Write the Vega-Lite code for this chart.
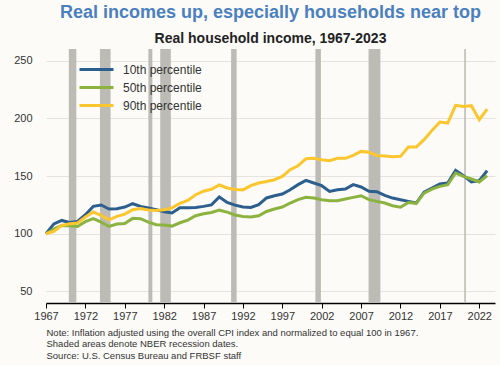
{
  "$schema": "https://vega.github.io/schema/vega-lite/v6.json",
  "width": 449,
  "height": 254,
  "autosize": {"type": "none"},
  "padding": {"left": 46, "top": 49, "right": 5, "bottom": 62},
  "background": "#fcfbf7",
  "config": {
    "font": "Liberation Sans",
    "view": {"stroke": null}
  },
  "title": {
    "text": "Real incomes up, especially households near top",
    "subtitle": "Real household income, 1967-2023",
    "anchor": "middle",
    "frame": "group",
    "font": "Liberation Sans",
    "fontSize": 18,
    "fontWeight": "bold",
    "color": "#4a7fc0",
    "subtitleFont": "Liberation Sans",
    "subtitleFontSize": 14,
    "subtitleFontWeight": "bold",
    "subtitleColor": "#222222",
    "subtitlePadding": 10,
    "offset": 3
  },
  "datasets": {
    "recessions": [
      {"start": 1969.9, "end": 1970.85},
      {"start": 1973.85, "end": 1975.2},
      {"start": 1980.0, "end": 1980.5},
      {"start": 1981.5, "end": 1982.85},
      {"start": 1990.5, "end": 1991.2},
      {"start": 2001.2, "end": 2001.9},
      {"start": 2007.95, "end": 2009.45},
      {"start": 2020.1, "end": 2020.3}
    ],
    "income": [
      {"year": 1967, "series": "10th percentile", "value": 100},
      {"year": 1968, "series": "10th percentile", "value": 108.5},
      {"year": 1969, "series": "10th percentile", "value": 111.5},
      {"year": 1970, "series": "10th percentile", "value": 109.8},
      {"year": 1971, "series": "10th percentile", "value": 110.7},
      {"year": 1972, "series": "10th percentile", "value": 116.5},
      {"year": 1973, "series": "10th percentile", "value": 123.7},
      {"year": 1974, "series": "10th percentile", "value": 124.9},
      {"year": 1975, "series": "10th percentile", "value": 121.4},
      {"year": 1976, "series": "10th percentile", "value": 121.7},
      {"year": 1977, "series": "10th percentile", "value": 123.1},
      {"year": 1978, "series": "10th percentile", "value": 126},
      {"year": 1979, "series": "10th percentile", "value": 123.7},
      {"year": 1980, "series": "10th percentile", "value": 122.3},
      {"year": 1981, "series": "10th percentile", "value": 120.8},
      {"year": 1982, "series": "10th percentile", "value": 119},
      {"year": 1983, "series": "10th percentile", "value": 118},
      {"year": 1984, "series": "10th percentile", "value": 122.5},
      {"year": 1985, "series": "10th percentile", "value": 122.5},
      {"year": 1986, "series": "10th percentile", "value": 122.8},
      {"year": 1987, "series": "10th percentile", "value": 123.7},
      {"year": 1988, "series": "10th percentile", "value": 125},
      {"year": 1989, "series": "10th percentile", "value": 131.8},
      {"year": 1990, "series": "10th percentile", "value": 127.1},
      {"year": 1991, "series": "10th percentile", "value": 124.8},
      {"year": 1992, "series": "10th percentile", "value": 123.1},
      {"year": 1993, "series": "10th percentile", "value": 122.8},
      {"year": 1994, "series": "10th percentile", "value": 125.1},
      {"year": 1995, "series": "10th percentile", "value": 131},
      {"year": 1996, "series": "10th percentile", "value": 132.9},
      {"year": 1997, "series": "10th percentile", "value": 134.4},
      {"year": 1998, "series": "10th percentile", "value": 138.1},
      {"year": 1999, "series": "10th percentile", "value": 142.5},
      {"year": 2000, "series": "10th percentile", "value": 146.2},
      {"year": 2001, "series": "10th percentile", "value": 143.9},
      {"year": 2002, "series": "10th percentile", "value": 141.6},
      {"year": 2003, "series": "10th percentile", "value": 136.7},
      {"year": 2004, "series": "10th percentile", "value": 138.1},
      {"year": 2005, "series": "10th percentile", "value": 138.7},
      {"year": 2006, "series": "10th percentile", "value": 142.5},
      {"year": 2007, "series": "10th percentile", "value": 140.5},
      {"year": 2008, "series": "10th percentile", "value": 136.7},
      {"year": 2009, "series": "10th percentile", "value": 136.4},
      {"year": 2010, "series": "10th percentile", "value": 133.2},
      {"year": 2011, "series": "10th percentile", "value": 130.9},
      {"year": 2012, "series": "10th percentile", "value": 129.5},
      {"year": 2013, "series": "10th percentile", "value": 128},
      {"year": 2014, "series": "10th percentile", "value": 126.6},
      {"year": 2015, "series": "10th percentile", "value": 136.1},
      {"year": 2016, "series": "10th percentile", "value": 139.6},
      {"year": 2017, "series": "10th percentile", "value": 143.1},
      {"year": 2018, "series": "10th percentile", "value": 143.9},
      {"year": 2019, "series": "10th percentile", "value": 154.9},
      {"year": 2020, "series": "10th percentile", "value": 150.3},
      {"year": 2021, "series": "10th percentile", "value": 144.8},
      {"year": 2022, "series": "10th percentile", "value": 145.9},
      {"year": 2023, "series": "10th percentile", "value": 154.6},
      {"year": 1967, "series": "50th percentile", "value": 100},
      {"year": 1968, "series": "50th percentile", "value": 104},
      {"year": 1969, "series": "50th percentile", "value": 107.2},
      {"year": 1970, "series": "50th percentile", "value": 106.9},
      {"year": 1971, "series": "50th percentile", "value": 106.3},
      {"year": 1972, "series": "50th percentile", "value": 110.4},
      {"year": 1973, "series": "50th percentile", "value": 113},
      {"year": 1974, "series": "50th percentile", "value": 110.1},
      {"year": 1975, "series": "50th percentile", "value": 106.3},
      {"year": 1976, "series": "50th percentile", "value": 108.4},
      {"year": 1977, "series": "50th percentile", "value": 108.9},
      {"year": 1978, "series": "50th percentile", "value": 113.3},
      {"year": 1979, "series": "50th percentile", "value": 113},
      {"year": 1980, "series": "50th percentile", "value": 110.1},
      {"year": 1981, "series": "50th percentile", "value": 107.8},
      {"year": 1982, "series": "50th percentile", "value": 107.5},
      {"year": 1983, "series": "50th percentile", "value": 106.6},
      {"year": 1984, "series": "50th percentile", "value": 109.5},
      {"year": 1985, "series": "50th percentile", "value": 111.8},
      {"year": 1986, "series": "50th percentile", "value": 115.6},
      {"year": 1987, "series": "50th percentile", "value": 117.3},
      {"year": 1988, "series": "50th percentile", "value": 118.4},
      {"year": 1989, "series": "50th percentile", "value": 120.4},
      {"year": 1990, "series": "50th percentile", "value": 118.7},
      {"year": 1991, "series": "50th percentile", "value": 116.2},
      {"year": 1992, "series": "50th percentile", "value": 115},
      {"year": 1993, "series": "50th percentile", "value": 114.4},
      {"year": 1994, "series": "50th percentile", "value": 115.6},
      {"year": 1995, "series": "50th percentile", "value": 119.3},
      {"year": 1996, "series": "50th percentile", "value": 121.4},
      {"year": 1997, "series": "50th percentile", "value": 123.1},
      {"year": 1998, "series": "50th percentile", "value": 126.6},
      {"year": 1999, "series": "50th percentile", "value": 129.5},
      {"year": 2000, "series": "50th percentile", "value": 131.5},
      {"year": 2001, "series": "50th percentile", "value": 130.9},
      {"year": 2002, "series": "50th percentile", "value": 129.5},
      {"year": 2003, "series": "50th percentile", "value": 128.6},
      {"year": 2004, "series": "50th percentile", "value": 128.6},
      {"year": 2005, "series": "50th percentile", "value": 130},
      {"year": 2006, "series": "50th percentile", "value": 131.5},
      {"year": 2007, "series": "50th percentile", "value": 132.9},
      {"year": 2008, "series": "50th percentile", "value": 129.5},
      {"year": 2009, "series": "50th percentile", "value": 128},
      {"year": 2010, "series": "50th percentile", "value": 126.6},
      {"year": 2011, "series": "50th percentile", "value": 124.3},
      {"year": 2012, "series": "50th percentile", "value": 123},
      {"year": 2013, "series": "50th percentile", "value": 127.1},
      {"year": 2014, "series": "50th percentile", "value": 126.3},
      {"year": 2015, "series": "50th percentile", "value": 135.2},
      {"year": 2016, "series": "50th percentile", "value": 138.7},
      {"year": 2017, "series": "50th percentile", "value": 141},
      {"year": 2018, "series": "50th percentile", "value": 142.5},
      {"year": 2019, "series": "50th percentile", "value": 152.6},
      {"year": 2020, "series": "50th percentile", "value": 149.7},
      {"year": 2021, "series": "50th percentile", "value": 147.4},
      {"year": 2022, "series": "50th percentile", "value": 144.8},
      {"year": 2023, "series": "50th percentile", "value": 150.3},
      {"year": 1967, "series": "90th percentile", "value": 100},
      {"year": 1968, "series": "90th percentile", "value": 102},
      {"year": 1969, "series": "90th percentile", "value": 107.2},
      {"year": 1970, "series": "90th percentile", "value": 108.7},
      {"year": 1971, "series": "90th percentile", "value": 109.3},
      {"year": 1972, "series": "90th percentile", "value": 114.5},
      {"year": 1973, "series": "90th percentile", "value": 118.8},
      {"year": 1974, "series": "90th percentile", "value": 115.9},
      {"year": 1975, "series": "90th percentile", "value": 112.1},
      {"year": 1976, "series": "90th percentile", "value": 115},
      {"year": 1977, "series": "90th percentile", "value": 117},
      {"year": 1978, "series": "90th percentile", "value": 120.8},
      {"year": 1979, "series": "90th percentile", "value": 121.9},
      {"year": 1980, "series": "90th percentile", "value": 120.5},
      {"year": 1981, "series": "90th percentile", "value": 120.2},
      {"year": 1982, "series": "90th percentile", "value": 120.8},
      {"year": 1983, "series": "90th percentile", "value": 122.4},
      {"year": 1984, "series": "90th percentile", "value": 126.3},
      {"year": 1985, "series": "90th percentile", "value": 128.9},
      {"year": 1986, "series": "90th percentile", "value": 133.8},
      {"year": 1987, "series": "90th percentile", "value": 136.8},
      {"year": 1988, "series": "90th percentile", "value": 138.5},
      {"year": 1989, "series": "90th percentile", "value": 142.2},
      {"year": 1990, "series": "90th percentile", "value": 139.6},
      {"year": 1991, "series": "90th percentile", "value": 138.4},
      {"year": 1992, "series": "90th percentile", "value": 138},
      {"year": 1993, "series": "90th percentile", "value": 141.6},
      {"year": 1994, "series": "90th percentile", "value": 143.9},
      {"year": 1995, "series": "90th percentile", "value": 145.2},
      {"year": 1996, "series": "90th percentile", "value": 146.8},
      {"year": 1997, "series": "90th percentile", "value": 149.7},
      {"year": 1998, "series": "90th percentile", "value": 155.5},
      {"year": 1999, "series": "90th percentile", "value": 158.9},
      {"year": 2000, "series": "90th percentile", "value": 165},
      {"year": 2001, "series": "90th percentile", "value": 165.3},
      {"year": 2002, "series": "90th percentile", "value": 164.1},
      {"year": 2003, "series": "90th percentile", "value": 163.3},
      {"year": 2004, "series": "90th percentile", "value": 165.3},
      {"year": 2005, "series": "90th percentile", "value": 165.3},
      {"year": 2006, "series": "90th percentile", "value": 167.9},
      {"year": 2007, "series": "90th percentile", "value": 171.3},
      {"year": 2008, "series": "90th percentile", "value": 170.5},
      {"year": 2009, "series": "90th percentile", "value": 167.8},
      {"year": 2010, "series": "90th percentile", "value": 167.3},
      {"year": 2011, "series": "90th percentile", "value": 166.7},
      {"year": 2012, "series": "90th percentile", "value": 167},
      {"year": 2013, "series": "90th percentile", "value": 175.1},
      {"year": 2014, "series": "90th percentile", "value": 175.1},
      {"year": 2015, "series": "90th percentile", "value": 181.5},
      {"year": 2016, "series": "90th percentile", "value": 189.5},
      {"year": 2017, "series": "90th percentile", "value": 196.8},
      {"year": 2018, "series": "90th percentile", "value": 195.9},
      {"year": 2019, "series": "90th percentile", "value": 211.2},
      {"year": 2020, "series": "90th percentile", "value": 210.3},
      {"year": 2021, "series": "90th percentile", "value": 210.9},
      {"year": 2022, "series": "90th percentile", "value": 198.8},
      {"year": 2023, "series": "90th percentile", "value": 208}
    ]
  },
  "layer": [
    {
      "data": {"name": "recessions"},
      "mark": {"type": "rect", "color": "#bcbbb6"},
      "encoding": {
        "x": {"field": "start", "type": "quantitative", "scale": {"domain": [1967, 2024], "nice": false, "zero": false}},
        "x2": {"field": "end"}
      }
    },
    {
      "data": {"name": "income"},
      "mark": {"type": "line", "strokeWidth": 3},
      "encoding": {
        "x": {
          "field": "year",
          "type": "quantitative",
          "scale": {"domain": [1967, 2024], "nice": false, "zero": false},
          "axis": {
            "values": [1967, 1972, 1977, 1982, 1987, 1992, 1997, 2002, 2007, 2012, 2017, 2022],
            "format": "d",
            "grid": false,
            "domainColor": "#000000",
            "domainWidth": 1.5,
            "tickColor": "#000000",
            "tickSize": 5,
            "labelFontSize": 11,
            "labelColor": "#333333",
            "labelPadding": 2,
            "labelFlush": false,
            "title": [
              "Note: Inflation adjusted using the overall CPI index and normalized to equal 100 in 1967.",
              "Shaded areas denote NBER recession dates.",
              "Source: U.S. Census Bureau and FRBSF staff"
            ],
            "titleAnchor": "start",
            "titleAlign": "left",
            "titleFontSize": 9.5,
            "titleFontWeight": "normal",
            "titleColor": "#333333",
            "titleLineHeight": 11.5,
            "titlePadding": 6
          }
        },
        "y": {
          "field": "value",
          "type": "quantitative",
          "scale": {"domain": [40, 260], "nice": false, "zero": false},
          "axis": {
            "values": [50, 100, 150, 200, 250],
            "title": null,
            "domain": false,
            "ticks": false,
            "grid": true,
            "gridColor": "#e5e3df",
            "labelFontSize": 11,
            "labelColor": "#333333",
            "labelPadding": 14
          }
        },
        "color": {
          "field": "series",
          "type": "nominal",
          "scale": {
            "domain": ["10th percentile", "50th percentile", "90th percentile"],
            "range": ["#2d5f8e", "#8cb340", "#fcc62e"]
          },
          "legend": {
            "orient": "none",
            "legendX": 44,
            "legendY": 14,
            "title": null,
            "symbolType": "M-3.4,0H3.4",
            "symbolSize": 100,
            "symbolStrokeWidth": 3,
            "labelFontSize": 12,
            "labelColor": "#333333",
            "labelOffset": 20,
            "rowPadding": 5
          }
        }
      }
    }
  ]
}
